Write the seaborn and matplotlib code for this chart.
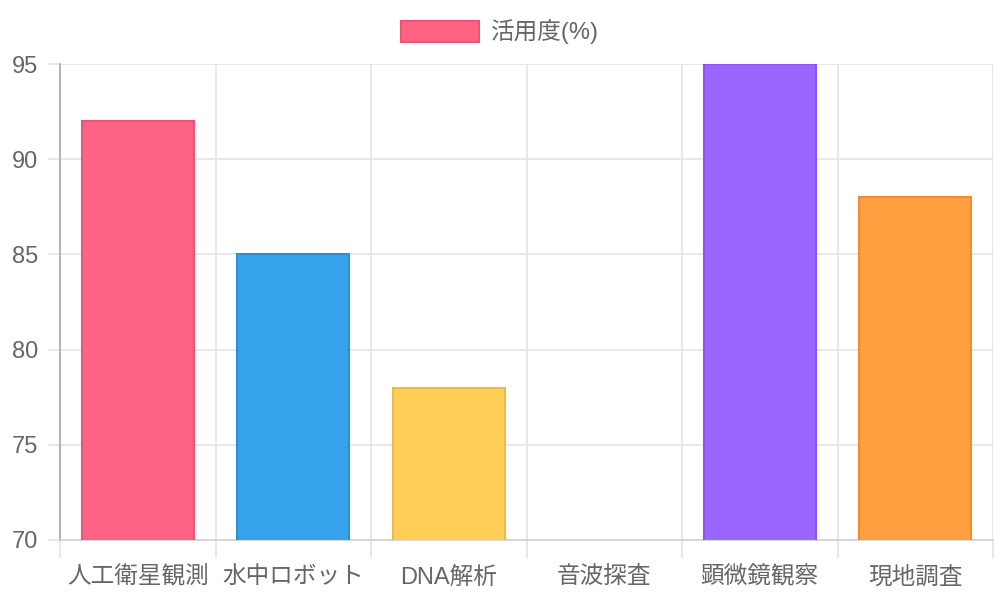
import matplotlib
matplotlib.use('Agg')
import matplotlib.pyplot as plt
from matplotlib.patches import Patch
import seaborn as sns
import pandas as pd

# ── Data ──────────────────────────────────────────────────────────────────────
categories = ['人工衛星観測', '水中ロボット', 'DNA解析', '音波探査', '顕微鏡観察', '現地調査']
usage = [92, 85, 78, 65, 95, 88]   # 音波探査 falls below the 70 floor
fill_colors = ['#FF6384', '#36A2EB', '#FFCE56', '#4BC0C0', '#9966FF', '#FF9F40']
edge_colors = ['#E8557A', '#2F8FD6', '#EDBB45', '#3FAAAA', '#8A56EE', '#EC8E32']
y_ticks = [70, 75, 80, 85, 90, 95]
legend_label = '活用度(%)'

# ── Style ─────────────────────────────────────────────────────────────────────
sns.set_style('white')
plt.rcParams['font.family'] = ['Liberation Sans', 'Noto Sans CJK JP', 'DejaVu Sans']
text_col = '#666666'
grid_col = '#e4e4e4'
fs = 17

df = pd.DataFrame({'category': categories, 'usage': usage})

fig = plt.figure(figsize=(10, 6), dpi=100)
ax = fig.add_axes([0.06, 0.10, 0.933, 0.7933])

sns.barplot(data=df, x='category', y='usage', hue='category', palette=fill_colors,
            saturation=1, width=0.72, legend=False, ax=ax, zorder=3)
for bar, ec in zip(ax.patches, edge_colors):
    bar.set_edgecolor(ec)
    bar.set_linewidth(1.5)

ax.set_ylim(70, 95)
ax.set_xlim(-0.5, len(categories) - 0.5)
ax.set_yticks(y_ticks)
ax.set_xlabel('')
ax.set_ylabel('')

# category boundaries for vertical grid + ticks (Chart.js offset grid)
ax.set_xticks([i - 0.5 for i in range(len(categories) + 1)], minor=True)
ax.grid(False)
ax.grid(True, axis='y', color=grid_col, linewidth=1.2, zorder=0)
ax.grid(True, axis='x', which='minor', color=grid_col, linewidth=1.2, zorder=0)
ax.set_axisbelow(True)

ax.tick_params(axis='x', which='major', bottom=True, length=0, pad=19,
               labelsize=fs, labelcolor=text_col)
ax.tick_params(axis='x', which='minor', bottom=True, length=13, width=1.2,
               color=grid_col, direction='out')
ax.tick_params(axis='y', left=True, length=8.5, width=1.2, color=grid_col, pad=7,
               labelsize=fs, labelcolor=text_col)

for side in ['top', 'right']:
    ax.spines[side].set_visible(False)
ax.spines['left'].set_color('#a8a8a8')
ax.spines['left'].set_linewidth(1.2)
ax.spines['bottom'].set_color('#d0d0d0')
ax.spines['bottom'].set_linewidth(1.2)

# legend at top centre
handle = Patch(facecolor=fill_colors[0], edgecolor=edge_colors[0], linewidth=1.5)
fig.legend([handle], [legend_label], loc='center', bbox_to_anchor=(0.5, 0.947),
           frameon=False, fontsize=fs, labelcolor=text_col,
           handlelength=3.3, handleheight=1.0, handletextpad=0.5)

fig.savefig('out.png', dpi=100)
